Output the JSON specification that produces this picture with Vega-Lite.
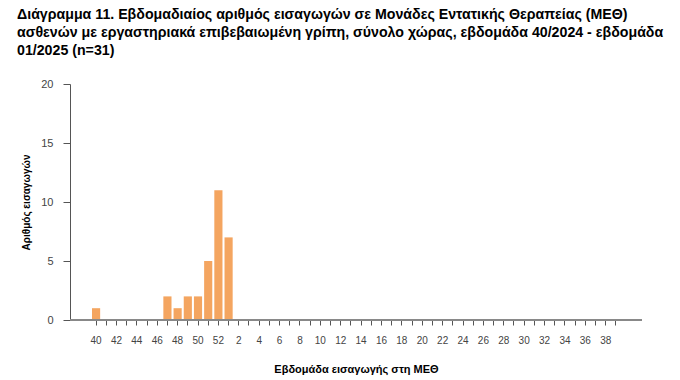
{
  "$schema": "https://vega.github.io/schema/vega-lite/v6.json",
  "autosize": {"type": "none"},
  "width": 572,
  "height": 236,
  "padding": {"left": 70, "top": 84, "right": 38, "bottom": 60},
  "background": "white",
  "title": {
    "text": ["Διάγραμμα 11. Εβδομαδιαίος αριθμός εισαγωγών σε Μονάδες Εντατικής Θεραπείας (ΜΕΘ)", "ασθενών με εργαστηριακά επιβεβαιωμένη γρίπη, σύνολο χώρας, εβδομάδα 40/2024 - εβδομάδα", "01/2025 (n=31)"],
    "anchor": "start",
    "frame": "group",
    "dx": -53,
    "offset": 20,
    "font": "Liberation Sans",
    "fontSize": 14.2,
    "fontWeight": "bold",
    "lineHeight": 18,
    "color": "#000000"
  },
  "data": {
    "values": [
      {"week": "40", "n": 1}, {"week": "41", "n": 0}, {"week": "42", "n": 0}, {"week": "43", "n": 0},
      {"week": "44", "n": 0}, {"week": "45", "n": 0}, {"week": "46", "n": 0}, {"week": "47", "n": 2},
      {"week": "48", "n": 1}, {"week": "49", "n": 2}, {"week": "50", "n": 2}, {"week": "51", "n": 5},
      {"week": "52", "n": 11}, {"week": "1", "n": 7}, {"week": "2", "n": 0}, {"week": "3", "n": 0},
      {"week": "4", "n": 0}, {"week": "5", "n": 0}, {"week": "6", "n": 0}, {"week": "7", "n": 0},
      {"week": "8", "n": 0}, {"week": "9", "n": 0}, {"week": "10", "n": 0}, {"week": "11", "n": 0},
      {"week": "12", "n": 0}, {"week": "13", "n": 0}, {"week": "14", "n": 0}, {"week": "15", "n": 0},
      {"week": "16", "n": 0}, {"week": "17", "n": 0}, {"week": "18", "n": 0}, {"week": "19", "n": 0},
      {"week": "20", "n": 0}, {"week": "21", "n": 0}, {"week": "22", "n": 0}, {"week": "23", "n": 0},
      {"week": "24", "n": 0}, {"week": "25", "n": 0}, {"week": "26", "n": 0}, {"week": "27", "n": 0},
      {"week": "28", "n": 0}, {"week": "29", "n": 0}, {"week": "30", "n": 0}, {"week": "31", "n": 0},
      {"week": "32", "n": 0}, {"week": "33", "n": 0}, {"week": "34", "n": 0}, {"week": "35", "n": 0},
      {"week": "36", "n": 0}, {"week": "37", "n": 0}, {"week": "38", "n": 0}, {"week": "39", "n": 0}
    ]
  },
  "layer": [
    {
      "mark": {"type": "bar", "color": "#F4A560"},
      "encoding": {
        "x": {
          "field": "week",
          "type": "ordinal",
          "sort": null,
          "scale": {"paddingInner": 0.2, "paddingOuter": 0, "range": [22, 550]},
          "axis": {
            "title": "Εβδομάδα εισαγωγής στη ΜΕΘ",
            "titleFont": "Liberation Sans",
            "titleFontSize": 11,
            "titleFontWeight": "bold",
            "titleColor": "#000000",
            "titlePadding": 18,
            "titleAnchor": "middle",
            "titleX": 286,
            "labelAngle": 0,
            "labelExpr": "parseInt(datum.value) % 2 == 0 ? datum.value : ''",
            "labelFont": "Liberation Sans",
            "labelFontSize": 10,
            "labelColor": "#444444",
            "labelPadding": 10,
            "tickSize": 5,
            "tickColor": "#555555",
            "domain": false,
            "grid": false
          }
        },
        "y": {
          "field": "n",
          "type": "quantitative",
          "scale": {"domain": [0, 20]},
          "axis": {
            "title": "Αριθμός εισαγωγών",
            "titleFont": "Liberation Sans",
            "titleFontSize": 10,
            "titleFontWeight": "bold",
            "titleColor": "#000000",
            "titlePadding": 9,
            "values": [0, 5, 10, 15, 20],
            "labelFont": "Liberation Sans",
            "labelFontSize": 11,
            "labelColor": "#444444",
            "labelPadding": 10,
            "tickSize": 7,
            "tickColor": "#555555",
            "domainColor": "#555555",
            "grid": false
          }
        }
      }
    },
    {
      "mark": {"type": "rule", "color": "#888888", "strokeWidth": 1},
      "encoding": {"y": {"datum": 0}}
    }
  ],
  "config": {"view": {"stroke": null}}
}
